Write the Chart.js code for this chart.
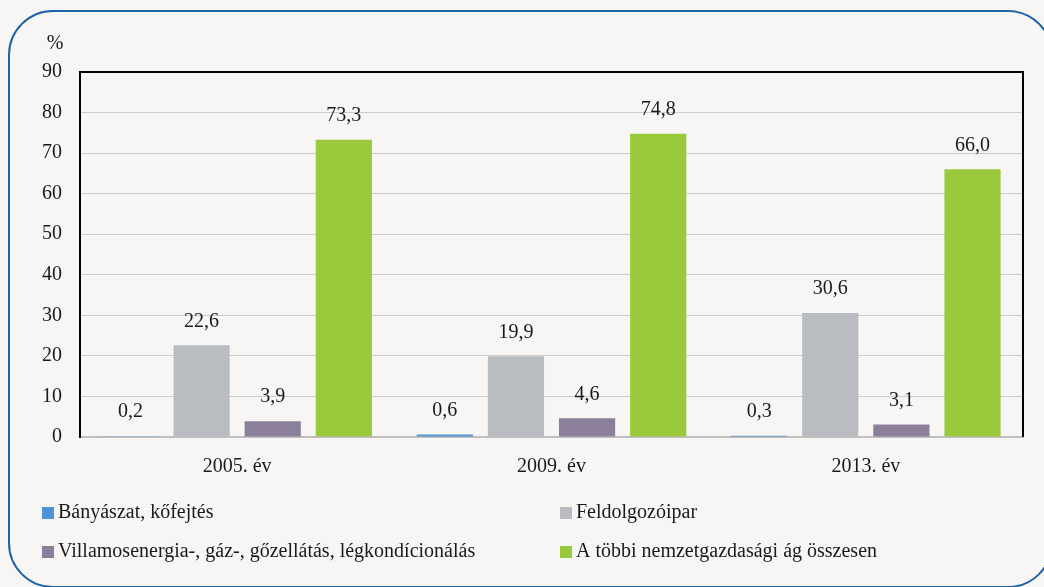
<!DOCTYPE html>
<html>
<head>
<meta charset="utf-8">
<script src="https://cdn.jsdelivr.net/npm/chart.js@4"></script>
<style>
html,body{margin:0;padding:0;background:#f7f6f4;width:1044px;height:587px;overflow:hidden;}
#frame{position:absolute;left:8px;top:10px;width:1045px;height:578px;border:2px solid #1f62a6;border-radius:45px;box-sizing:border-box;}
#wrap{position:absolute;left:0;top:0;width:1044px;height:587px;}
</style>
</head>
<body>
<div id="frame"></div>
<div id="wrap"><canvas id="c" width="1044" height="587"></canvas></div>
<script>
const categories = ["2005. év", "2009. év", "2013. év"];
const seriesNames = ["Bányászat, kőfejtés", "Feldolgozóipar", "Villamosenergia-, gáz-, gőzellátás, légkondícionálás", "A többi nemzetgazdasági ág összesen"];
const banyaszat = [0.2, 0.6, 0.3];
const feldolgozo = [22.6, 19.9, 30.6];
const villamos = [3.9, 4.6, 3.1];
const tobbi = [73.3, 74.8, 66.0];
const yTicks = [0, 10, 20, 30, 40, 50, 60, 70, 80, 90];
const colors = ["#4f94d6", "#b9bdc1", "#8b7f9a", "#9aca3c"];
const FONT = "'Liberation Serif', 'DejaVu Serif', serif";
const TXT = "#1a1a1a";

const series = [banyaszat, feldolgozo, villamos, tobbi];

const extras = {
  id: 'extras',
  afterDatasetsDraw(chart) {
    const ctx = chart.ctx;
    const a = chart.chartArea;
    ctx.save();
    // top and right border
    ctx.strokeStyle = '#000';
    ctx.lineWidth = 2;
    ctx.beginPath();
    ctx.moveTo(a.left - 1, a.top);
    ctx.lineTo(a.right, a.top);
    ctx.lineTo(a.right, a.bottom);
    ctx.stroke();
    // data labels
    ctx.fillStyle = TXT;
    ctx.font = "20px " + FONT;
    ctx.textAlign = 'center';
    ctx.textBaseline = 'middle';
    chart.data.datasets.forEach((ds, i) => {
      const meta = chart.getDatasetMeta(i);
      meta.data.forEach((bar, j) => {
        const v = ds.data[j];
        ctx.fillText(v.toFixed(1).replace('.', ','), bar.x, bar.y - 24);
      });
    });
    // percent sign
    ctx.textAlign = 'center';
    ctx.fillText('%', 55, 44);
    // legend
    const rows = [513, 552];
    const cols = [42, 560];
    chart.data.datasets.forEach((ds, i) => {
      const x = cols[i % 2];
      const y = rows[Math.floor(i / 2)];
      ctx.fillStyle = ds.backgroundColor;
      ctx.fillRect(x, y - 6, 12, 12);
      ctx.fillStyle = TXT;
      ctx.textAlign = 'left';
      ctx.fillText(ds.label, x + 16, y);
    });
    ctx.restore();
  }
};

new Chart(document.getElementById('c'), {
  type: 'bar',
  data: {
    labels: categories,
    datasets: series.map((d, i) => ({
      label: seriesNames[i],
      data: d,
      backgroundColor: colors[i],
      borderWidth: 0,
      categoryPercentage: 0.905,
      barPercentage: 0.79
    }))
  },
  options: {
    responsive: false,
    animation: false,
    layout: { padding: { left: 0, top: 72, right: 21, bottom: 0 } },
    plugins: { legend: { display: false }, tooltip: { enabled: false } },
    scales: {
      x: {
        grid: { display: false, drawTicks: false },
        border: { color: '#bfbfbf', width: 2 },
        ticks: { color: TXT, font: { family: FONT, size: 20 }, padding: 18 },
        afterFit(s) { s.height = 150; }
      },
      y: {
        min: 0, max: 90,
        afterBuildTicks(s) { s.ticks = yTicks.map(v => ({ value: v })); },
        grid: { color: '#cccccc', lineWidth: 1, drawTicks: false },
        border: { color: '#000', width: 2 },
        ticks: { color: TXT, font: { family: FONT, size: 20 }, padding: 18 },
        afterFit(s) { s.width = 80; }
      }
    }
  },
  plugins: [extras]
});
</script>
</body>
</html>
